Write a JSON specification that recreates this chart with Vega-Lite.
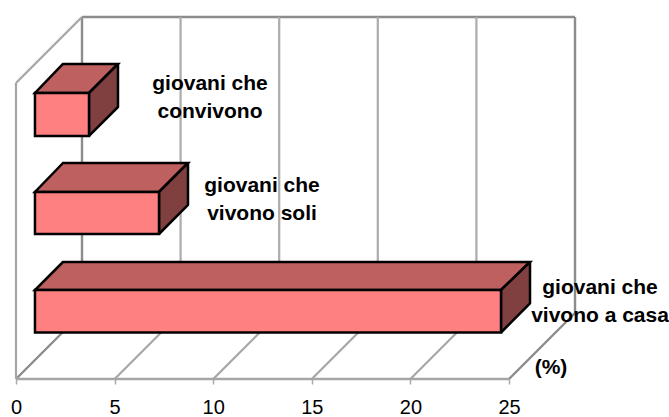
{
"$schema":"https://vega.github.io/schema/vega-lite/v6.json",
"width":669,"height":417,"padding":0,"autosize":"none",
"background":"white",
"config":{"view":{"stroke":null},"font":"Liberation Sans"},
"datasets":{
"frame":[
{"kind":"wall","x":3.347,"x2":3.347,"h":3.347,"h2":18.357},
{"kind":"wall","x":25,"x2":28.347,"h":0,"h2":3.347},
{"kind":"wall","x":3.347,"x2":28.347,"h":18.357,"h2":18.357},
{"kind":"wall","x":28.347,"x2":28.347,"h":3.347,"h2":18.357},
{"kind":"wall","x":0,"x2":3.347,"h":0,"h2":3.347},
{"kind":"front","x":0,"x2":25,"h":0,"h2":0},
{"kind":"grid","x":8.347,"x2":8.347,"h":3.347,"h2":18.357},
{"kind":"grid","x":13.347,"x2":13.347,"h":3.347,"h2":18.357},
{"kind":"grid","x":18.347,"x2":18.347,"h":3.347,"h2":18.357},
{"kind":"grid","x":23.347,"x2":23.347,"h":3.347,"h2":18.357},
{"kind":"thin","x":0,"x2":0,"h":0,"h2":15.01},
{"kind":"thin","x":0,"x2":3.347,"h":15.01,"h2":18.357},
{"kind":"thin","x":5,"x2":8.347,"h":0,"h2":3.347},
{"kind":"thin","x":10,"x2":13.347,"h":0,"h2":3.347},
{"kind":"thin","x":15,"x2":18.347,"h":0,"h2":3.347},
{"kind":"thin","x":20,"x2":23.347,"h":0,"h2":3.347}
],
"front":[
{"bar":"giovani che convivono","x":0.963,"x2":3.702,"h":12.323,"h2":14.503},
{"bar":"giovani che vivono soli","x":0.963,"x2":7.252,"h":7.353,"h2":9.483},
{"bar":"giovani che vivono a casa","x":0.963,"x2":24.594,"h":2.358,"h2":4.513}
],
"top":[
{"bar":"giovani che convivono","x":0.963,"x2":3.702,"h":14.503},
{"bar":"giovani che convivono","x":2.383,"x2":5.172,"h":15.974},
{"bar":"giovani che vivono soli","x":0.963,"x2":7.252,"h":9.483},
{"bar":"giovani che vivono soli","x":2.383,"x2":8.722,"h":10.953},
{"bar":"giovani che vivono a casa","x":0.963,"x2":24.594,"h":4.513},
{"bar":"giovani che vivono a casa","x":2.383,"x2":26.065,"h":5.933}
],
"side":[
{"bar":"giovani che convivono","x":3.702,"h":12.323,"h2":14.503},
{"bar":"giovani che convivono","x":5.172,"h":13.793,"h2":15.974},
{"bar":"giovani che vivono soli","x":7.252,"h":7.353,"h2":9.483},
{"bar":"giovani che vivono soli","x":8.722,"h":8.824,"h2":10.953},
{"bar":"giovani che vivono a casa","x":24.594,"h":2.358,"h2":4.513},
{"bar":"giovani che vivono a casa","x":26.065,"h":3.829,"h2":5.933}
],
"labels":[
{"label":"giovani che\nconvivono","x":9.838,"h":14.96},
{"label":"giovani che\nvivono soli","x":12.475,"h":9.81},
{"label":"giovani che\nvivono a casa","x":29.615,"h":4.615},
{"label":"(%)","x":27.13,"h":0.558}
]
},
"layer":[
{"data":{"name":"frame"},
 "mark":{"type":"rule"},
 "encoding":{
  "x":{"field":"x","type":"quantitative","scale":{"domain":[-0.811,33.113],"nice":false,"zero":false},
   "axis":{"title":null,"orient":"bottom","offset":-38,"values":[0,5,10,15,20,25],"grid":false,"domain":false,"ticks":true,"tickSize":5,"tickColor":"#aaaaaa","tickWidth":1.5,"labelFontSize":20,"labelFont":"Liberation Sans","labelColor":"#000000","labelPadding":13,"labelFlush":false,"labelOverlap":false,"labelBound":false}},
  "x2":{"field":"x2"},
  "y":{"field":"h","type":"quantitative","scale":{"domain":[-1.927,19.219],"nice":false,"zero":false},"axis":null},
  "y2":{"field":"h2"},
  "color":{"field":"kind","type":"nominal","legend":null,"scale":{"domain":["wall","front","grid","thin"],"range":["#8c8c8c","#a6a6a6","#adadad","#a6a6a6"]}},
  "size":{"field":"kind","type":"nominal","legend":null,"scale":{"domain":["wall","front","grid","thin"],"range":[2.4,2.2,1.8,1]}}
 }},
{"data":{"name":"top"},
 "mark":{"type":"area","orient":"horizontal","fill":"#BF6060","stroke":"#000000","strokeWidth":2.5,"strokeJoin":"miter"},
 "encoding":{
  "y":{"field":"h","type":"quantitative"},
  "x":{"field":"x","type":"quantitative"},
  "x2":{"field":"x2"},
  "detail":{"field":"bar"}
 }},
{"data":{"name":"side"},
 "mark":{"type":"area","orient":"vertical","fill":"#804040","stroke":"#000000","strokeWidth":2.5,"strokeJoin":"bevel"},
 "encoding":{
  "x":{"field":"x","type":"quantitative"},
  "y":{"field":"h","type":"quantitative"},
  "y2":{"field":"h2"},
  "detail":{"field":"bar"}
 }},
{"data":{"name":"front"},
 "mark":{"type":"rect","fill":"#FF8080","stroke":"#000000","strokeWidth":2.5},
 "encoding":{
  "x":{"field":"x","type":"quantitative"},
  "x2":{"field":"x2"},
  "y":{"field":"h","type":"quantitative"},
  "y2":{"field":"h2"}
 }},
{"data":{"name":"labels"},
 "mark":{"type":"text","font":"Liberation Sans","fontWeight":"bold","fontSize":21,"color":"#000000","align":"center","baseline":"middle","lineBreak":"\n","lineHeight":28},
 "encoding":{
  "x":{"field":"x","type":"quantitative"},
  "y":{"field":"h","type":"quantitative"},
  "text":{"field":"label"}
 }}
]
}
